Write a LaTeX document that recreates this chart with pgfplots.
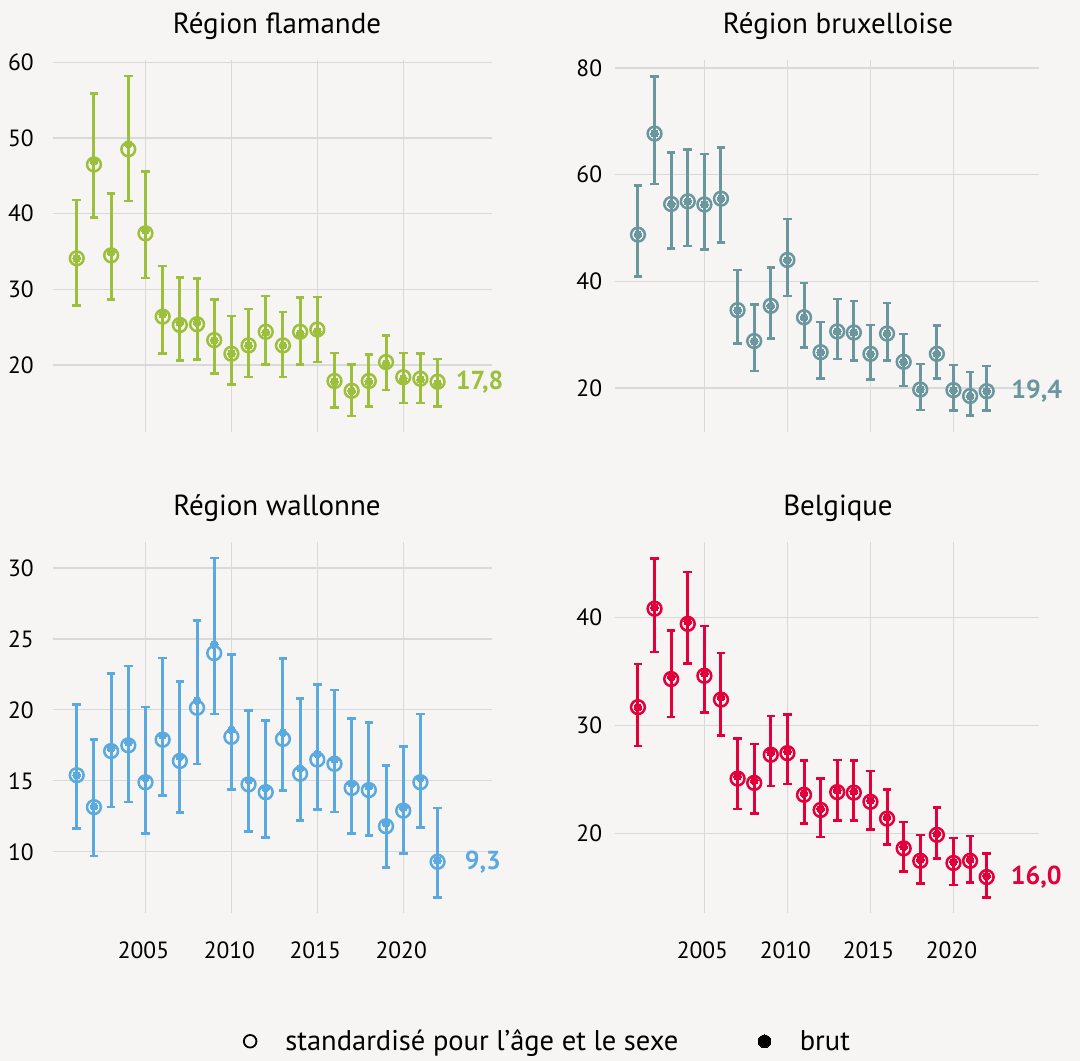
\documentclass[border=0pt]{standalone}
\usepackage{fontspec}
\setmainfont{PT Sans}
\usepackage{pgfplots}
\pgfplotsset{compat=1.18}
\usepackage{pgfplotstable}

\definecolor{bg}{HTML}{F6F5F3}
\definecolor{gridc}{HTML}{D9D9D9}
\definecolor{cgreen}{HTML}{9DC03C}
\definecolor{cteal}{HTML}{6A979E}
\definecolor{cblue}{HTML}{5AAADF}
\definecolor{cred}{HTML}{E3003A}

\pgfplotstableread{
year std brut hi lo
2001 34.1 34.1 41.8 27.9
2002 46.5 46.9 55.9 39.5
2003 34.5 34.9 42.7 28.7
2004 48.5 49.2 58.2 41.7
2005 37.4 37.8 45.6 31.5
2006 26.4 26.7 33.1 21.5
2007 25.3 25.6 31.6 20.6
2008 25.4 25.6 31.4 20.7
2009 23.3 23.3 28.7 18.9
2010 21.5 21.5 26.5 17.4
2011 22.6 22.6 27.4 18.4
2012 24.4 24.3 29.1 20.1
2013 22.6 22.6 27.0 18.4
2014 24.4 24.2 28.9 20.1
2015 24.7 24.5 29.0 20.4
2016 17.9 17.8 21.6 14.4
2017 16.6 16.6 20.1 13.3
2018 17.9 17.8 21.4 14.5
2019 20.4 20.2 23.9 16.7
2020 18.4 18.2 21.6 15.0
2021 18.2 18.1 21.5 15.0
2022 17.8 17.6 20.8 14.5
}\flamande

\pgfplotstableread{
year std brut hi lo
2001 48.75 48.75 58.0 40.9
2002 67.7 67.7 78.4 58.25
2003 54.5 54.5 64.1 46.1
2004 55.0 55.0 64.7 46.6
2005 54.4 54.4 63.9 46.0
2006 55.5 55.5 65.1 47.3
2007 34.6 34.6 42.1 28.3
2008 28.8 28.8 35.6 23.2
2009 35.4 35.4 42.6 29.3
2010 44.0 44.0 51.7 37.25
2011 33.25 33.25 39.7 27.6
2012 26.7 26.7 32.4 21.8
2013 30.6 30.6 36.7 25.4
2014 30.4 30.4 36.3 25.2
2015 26.4 26.4 31.8 21.6
2016 30.2 30.2 35.9 25.2
2017 24.9 24.9 30.1 20.4
2018 19.7 19.7 24.5 15.9
2019 26.4 26.4 31.7 21.75
2020 19.6 19.6 24.3 15.8
2021 18.5 18.5 23.0 14.8
2022 19.4 19.4 24.1 15.75
}\bruxelles

\pgfplotstableread{
year std brut hi lo
2001 15.4 15.4 20.4 11.65
2002 13.15 13.2 17.9 9.7
2003 17.1 17.3 22.55 13.15
2004 17.5 17.7 23.1 13.5
2005 14.9 15.2 20.2 11.3
2006 17.9 18.2 23.65 13.97
2007 16.4 16.7 22.0 12.75
2008 20.15 20.65 26.3 16.2
2009 24.0 24.6 30.7 19.7
2010 18.1 18.6 23.9 14.4
2011 14.75 15.05 19.96 11.45
2012 14.2 14.5 19.25 11.0
2013 17.95 18.4 23.6 14.3
2014 15.5 15.9 20.8 12.2
2015 16.5 16.9 21.8 13.0
2016 16.2 16.5 21.4 12.8
2017 14.5 14.8 19.4 11.3
2018 14.35 14.6 19.1 11.15
2019 11.8 12.0 16.1 8.9
2020 12.9 13.1 17.4 9.9
2021 14.9 15.2 19.7 11.7
2022 9.3 9.4 13.1 6.8
}\wallonne

\pgfplotstableread{
year std brut hi lo
2001 31.7 31.7 35.7 28.1
2002 40.8 40.9 45.45 36.8
2003 34.3 34.5 38.8 30.8
2004 39.4 39.6 44.2 35.75
2005 34.6 34.8 39.2 31.2
2006 32.4 32.6 36.7 29.1
2007 25.1 25.3 28.8 22.3
2008 24.7 24.9 28.3 21.9
2009 27.3 27.5 30.9 24.4
2010 27.45 27.6 31.0 24.6
2011 23.6 23.7 26.75 20.95
2012 22.2 22.3 25.1 19.7
2013 23.85 24.0 26.8 21.2
2014 23.8 23.9 26.75 21.2
2015 22.95 23.1 25.8 20.4
2016 21.4 21.5 24.1 19.0
2017 18.65 18.8 21.1 16.5
2018 17.5 17.6 19.9 15.4
2019 19.9 20.0 22.4 17.7
2020 17.3 17.4 19.6 15.25
2021 17.5 17.6 19.8 15.5
2022 16.0 16.1 18.2 14.1
}\belgique

\pgfplotsset{
  panel/.style={
    scale only axis, height=371.7pt, anchor=north west, clip=false,
    xmin=1999.6, xmax=2025.15,
    xtick={2005,2010,2015,2020},
    grid=major, major grid style={draw=gridc, line width=1.2pt},
    axis line style={draw=none}, major tick length=0pt, tick style={draw=none},
    /pgf/number format/1000 sep={},
    /pgf/number format/assume math mode=true,
    tick label style={font=\fontsize{23.5}{26}\selectfont, text=black},
    xticklabel style={inner sep=0pt, anchor=base, yshift=-45.5pt, xshift=-2pt},
  },
  bars/.style={color=#1, only marks, mark=o, mark size=6.9pt,
    mark options={solid, line width=2.5pt, draw=#1, fill=none},
    error bars/.cd, y dir=both, y explicit,
    error bar style={line width=3pt, draw=#1, solid},
    error mark options={rotate=90, mark size=4.3pt, line width=2.6pt, draw=#1}},
  dots/.style={color=#1, only marks, mark=*, mark size=3.9pt,
    mark options={solid, fill=#1, draw=#1, line width=0pt}},
}
\tikzset{lab/.style={anchor=west, inner sep=0pt, text=#1, font=\bfseries\fontsize{26}{29}\selectfont}}

\begin{document}
\begin{tikzpicture}
\fill[bg] (0pt,0pt) rectangle (1080pt,-1061pt);

\node[anchor=base, font=\fontsize{29}{32}\selectfont] at (277pt,-33.3pt) {Région flamande};
\node[anchor=base, font=\fontsize{29}{32}\selectfont] at (838pt,-33.3pt) {Région bruxelloise};
\node[anchor=base, font=\fontsize{29}{32}\selectfont] at (277pt,-515pt) {Région wallonne};
\node[anchor=base, font=\fontsize{29}{32}\selectfont] at (838pt,-515pt) {Belgique};

% Panel 1
\begin{axis}[panel, at={(52.7pt,-60pt)}, width=439pt, ymin=11.2, ymax=60.3,
  yticklabel style={inner sep=0pt, anchor=east, xshift=-18.7pt},
  ytick={20,30,40,50,60}, xticklabels={}]
\addplot[forget plot, bars=cgreen] table[x=year, y=std, y error plus expr=\thisrow{hi}-\thisrow{std}, y error minus expr=\thisrow{std}-\thisrow{lo}] {\flamande};
\addplot[forget plot, dots=cgreen] table[x=year, y=brut] {\flamande};
\node[lab=cgreen, xshift=18pt] at (axis cs:2022,17.8) {17,8};
\end{axis}

% Panel 2
\begin{axis}[panel, at={(614.7pt,-60pt)}, width=424.3pt, ymin=11.8, ymax=81.5,
  yticklabel style={inner sep=0pt, anchor=east, xshift=-12.4pt},
  ytick={20,40,60,80}, xticklabels={}]
\addplot[forget plot, bars=cteal] table[x=year, y=std, y error plus expr=\thisrow{hi}-\thisrow{std}, y error minus expr=\thisrow{std}-\thisrow{lo}] {\bruxelles};
\addplot[forget plot, dots=cteal] table[x=year, y=brut] {\bruxelles};
\node[lab=cteal, xshift=24.5pt] at (axis cs:2022,19.4) {19,4};
\end{axis}

% Panel 3
\begin{axis}[panel, at={(52.7pt,-541.7pt)}, width=439pt, ymin=5.66, ymax=31.85,
  yticklabel style={inner sep=0pt, anchor=east, xshift=-18.7pt},
  ytick={10,15,20,25,30},
  legend style={at={(axis description cs:1.128,-0.344)}, anchor=center, draw=none, fill=none,
    legend columns=2, font=\fontsize{28.5}{31}\selectfont,
    /tikz/every odd column/.append style={column sep=27pt},
    /tikz/every even column/.append style={column sep=78pt}},
  legend cell align=left]
\addlegendimage{only marks, mark=o, mark size=6.3pt, mark options={solid, line width=1.8pt, draw=black}}
\addlegendentry{standardisé pour l’âge et le sexe}
\addlegendimage{only marks, mark=*, mark size=6.3pt, mark options={solid, fill=black, draw=black, line width=0pt}}
\addlegendentry{brut}
\addplot[forget plot, bars=cblue] table[x=year, y=std, y error plus expr=\thisrow{hi}-\thisrow{std}, y error minus expr=\thisrow{std}-\thisrow{lo}] {\wallonne};
\addplot[forget plot, dots=cblue] table[x=year, y=brut] {\wallonne};
\node[lab=cblue, xshift=27pt] at (axis cs:2022,9.3) {9,3};
\end{axis}

% Panel 4
\begin{axis}[panel, at={(614.7pt,-541.7pt)}, width=424.3pt, ymin=12.64, ymax=46.99,
  yticklabel style={inner sep=0pt, anchor=east, xshift=-12.4pt},
  ytick={20,30,40}]
\addplot[forget plot, bars=cred] table[x=year, y=std, y error plus expr=\thisrow{hi}-\thisrow{std}, y error minus expr=\thisrow{std}-\thisrow{lo}] {\belgique};
\addplot[forget plot, dots=cred] table[x=year, y=brut] {\belgique};
\node[lab=cred, xshift=24pt] at (axis cs:2022,16.0) {16,0};
\end{axis}
\end{tikzpicture}
\end{document}
